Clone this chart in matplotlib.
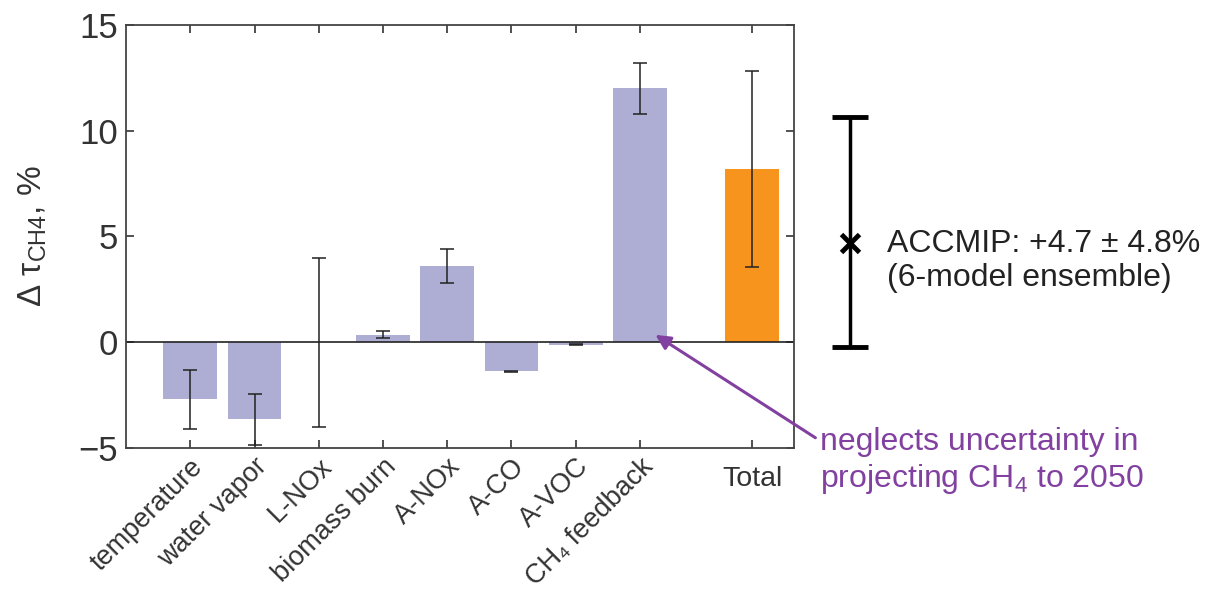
import matplotlib
matplotlib.use("Agg")
import matplotlib.pyplot as plt
from matplotlib.transforms import ScaledTranslation

plt.rcParams['font.family'] = ['Liberation Sans', 'DejaVu Sans']
plt.rcParams['mathtext.fontset'] = 'custom'
plt.rcParams['mathtext.rm'] = 'Liberation Sans'
plt.rcParams['mathtext.it'] = 'Liberation Sans'

# data
categories = ["temperature", "water vapor", "L-NOx", "biomass burn", "A-NOx",
              "A-CO", "A-VOC", "CH\u2084 feedback", "Total"]
positions = [1, 2, 3, 4, 5, 6, 7, 8, 9.75]
values = [-2.7, -3.65, 0.0, 0.35, 3.6, -1.37, -0.12, 12.0, 8.2]
errors = [1.4, 1.2, 4.0, 0.17, 0.8, 0.03, 0.03, 1.2, 4.63]
colors = ["#aeaed4"] * 8 + ["#f7941e"]

accmip_x = 11.27
accmip_mean = 4.7
accmip_lo = 4.93
accmip_hi = 5.96

purple = "#8241a0"
dark = "#333333"

fig = plt.figure(figsize=(12.06, 5.89), dpi=100)
ax = fig.add_axes([0.1045, 0.2394, 0.554, 0.7182])

ax.bar(positions, values, width=0.84, color=colors, zorder=1)
ax.errorbar(positions, values, yerr=errors, fmt="none", ecolor="#222222",
            elinewidth=1.1, capsize=5, capthick=1.1, zorder=3)
ax.axhline(0, color="#222222", lw=1.2, zorder=2)

ax.set_xlim(0, 10.4)
ax.set_ylim(-5, 15)
ax.set_yticks([-5, 0, 5, 10, 15])
ax.set_yticklabels(["\u22125", "0", "5", "10", "15"])
ax.set_xticks(positions)
ax.set_xticklabels(categories)
ax.tick_params(axis="x", labelsize=20.5, colors=dark, direction="in",
               top=True, length=6, width=1.2, pad=4)
ax.tick_params(axis="y", labelsize=25, colors=dark, direction="in",
               right=True, length=6, width=1.2, pad=6)
labels = ax.get_xticklabels()
for lbl in labels[:-1]:
    lbl.set_rotation(45)
    lbl.set_ha("right")
    lbl.set_rotation_mode("anchor")
    lbl.set_fontsize(19.5)
labels[-1].set_transform(labels[-1].get_transform() +
                         ScaledTranslation(0, -9 / 72, fig.dpi_scale_trans))
for s in ax.spines.values():
    s.set_color("#444444")
    s.set_linewidth(1.3)

ax.set_ylabel("\u0394 \u03c4$_{\\rm CH4}$, %", fontsize=24, color=dark, labelpad=21)

# ACCMIP ensemble bar outside the axes
ax.errorbar([accmip_x], [accmip_mean], yerr=[[accmip_lo], [accmip_hi]], fmt="x",
            color="black", ms=13, mew=3.5, elinewidth=2.5, capsize=13, capthick=3,
            clip_on=False)
ax.text(accmip_x + 0.58, 3.85, "ACCMIP: +4.7 \u00b1 4.8%\n(6-model ensemble)",
        fontsize=23, color="#222222", va="center", ha="left",
        linespacing=1.2, clip_on=False)

# annotation arrow
ax.annotate("neglects uncertainty in\nprojecting CH$_4$ to 2050",
            xy=(8.24, 0.35), xytext=(10.81, -5.65),
            fontsize=23, color=purple, ha="left", va="center", linespacing=1.2,
            annotation_clip=False,
            arrowprops=dict(arrowstyle="-|>", color=purple, lw=2.2,
                            mutation_scale=22, shrinkA=2, shrinkB=0,
                            relpos=(0, 0.8)))

fig.savefig("out.png", dpi=100)
